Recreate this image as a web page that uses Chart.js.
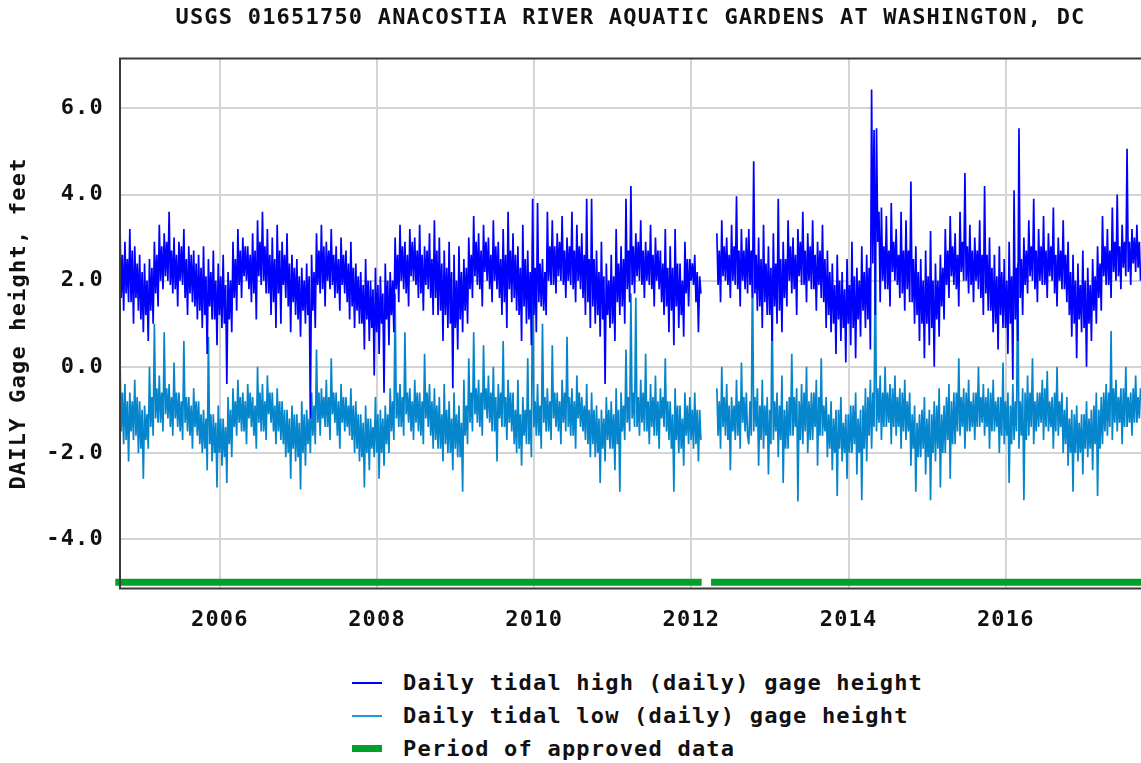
<!DOCTYPE html>
<html>
<head>
<meta charset="utf-8">
<title>USGS 01651750 Anacostia River</title>
<script src="https://cdn.jsdelivr.net/npm/chart.js@4.4.1/dist/chart.umd.min.js"></script>
<style>
  html, body { margin: 0; padding: 0; background: #fff; }
  #wrap { position: relative; width: 1141px; height: 763px; overflow: hidden; }
  #chart { position: absolute; left: 0; top: 0; }
  #legend { position: absolute; left: 352px; top: 666px; font: bold 22px "DejaVu Sans Mono", monospace; letter-spacing: 1.2px; color: #111; }
  .row { display: flex; align-items: center; height: 33px; white-space: pre; }
  .key { width: 30px; margin-right: 21px; }
</style>
</head>
<body>
<div id="wrap">
  <canvas id="chart" width="1141" height="661"></canvas>
  <div id="legend"></div>
</div>
<script>
// daily record thinned to 64 readings per year, starting Oct 2004
var startYear = 2004.73;
var stepYear = 1 / 64;

// daily tidal high, feet (one row per water year, Oct -> Sep)
var highFeet = [
  3.3,1.6,2.6,1.3, 2.9,1.7,2.5,1.5, 3.2,1.5,2.7,1.0, 2.8,1.6,2.4,1.3, 2.6,1.1,2.2,0.8, 2.4,1.2,2.0,0.6, 2.5,1.3,2.3,1.0, 2.9,1.7,2.6,1.4,
  3.3,2.0,2.8,1.8, 3.1,2.1,2.9,2.0, 3.6,1.9,2.7,1.7, 3.0,1.8,2.6,1.4, 2.9,2.0,2.8,1.9, 3.2,1.6,2.5,1.2, 2.8,1.7,2.6,1.5, 2.7,1.4,2.4,1.1,
  // 2006
  2.6,1.3,2.3,0.9, 2.8,1.2,2.1,0.3, 2.5,1.4,2.2,1.1, 2.7,1.1,2.0,0.5, 2.4,1.2,2.1,0.9, 2.6,1.0,1.9,-0.4, 2.2,1.1,2.0,0.8, 2.9,1.6,2.5,1.3,
  3.2,1.9,2.7,1.6, 3.0,2.1,2.8,2.0, 2.8,1.8,2.6,1.5, 3.1,1.7,2.7,1.1, 3.4,2.1,2.9,1.9, 3.6,2.0,2.8,1.7, 3.2,1.7,2.6,1.2, 3.0,1.5,2.5,0.9,
  // 2007
  3.3,1.7,2.7,1.0, 2.9,1.9,2.6,1.6, 3.1,1.4,2.4,0.8, 2.6,1.5,2.3,1.2, 2.5,1.1,2.1,0.7, 2.3,1.3,2.0,1.0, 2.4,1.2,2.1,-1.2, 2.6,1.3,2.2,0.9,
  3.1,1.9,2.7,1.7, 3.3,1.8,2.8,1.4, 2.9,2.0,2.7,1.8, 3.2,1.9,2.6,1.6, 2.8,1.7,2.5,1.3, 3.0,1.9,2.6,1.7, 2.7,1.5,2.4,1.1, 2.9,1.4,2.3,0.9,
  // 2008
  2.4,1.3,2.1,1.0, 2.2,1.0,1.9,0.4, 2.5,1.1,2.0,0.6, 2.0,0.9,1.8,-0.2, 2.3,0.8,1.9,0.3, 2.1,1.0,1.7,-0.6, 2.4,1.1,2.0,0.5, 2.2,1.2,2.0,0.8,
  3.0,1.8,2.6,1.5, 3.3,2.0,2.8,1.8, 2.9,1.7,2.6,1.4, 3.2,2.1,2.9,2.0, 3.0,1.9,2.7,1.6, 3.3,1.7,2.6,1.3, 2.8,1.9,2.7,1.8, 3.1,1.6,2.5,1.2,
  // 2009
  3.4,1.6,2.7,1.2, 3.0,1.3,2.4,0.6, 2.7,1.2,2.3,0.9, 2.9,1.0,2.2,-0.5, 2.6,0.9,2.0,0.4, 2.8,1.1,2.2,0.8, 2.5,1.3,2.3,1.0, 3.0,1.8,2.6,1.6,
  3.5,2.1,2.9,1.9, 3.1,1.8,2.7,1.4, 3.3,2.2,2.9,2.0, 3.0,1.8,2.6,1.5, 3.4,2.0,2.8,1.8, 2.9,1.6,2.5,1.2, 3.2,1.5,2.6,0.9, 3.6,1.8,2.7,1.5,
  // 2010
  3.1,1.6,2.6,1.3, 2.8,1.2,2.3,0.6, 3.3,1.4,2.5,1.0, 2.7,1.1,2.2,0.5, 3.9,1.2,2.3,0.8, 3.8,1.5,2.4,1.4, 2.5,1.3,2.2,1.2, 3.6,2.0,2.8,1.9,
  3.4,1.9,2.8,1.7, 3.1,2.1,2.9,2.0, 3.5,1.9,2.7,1.6, 3.0,2.0,2.8,1.9, 3.6,1.8,2.7,1.5, 3.3,2.0,2.8,1.8, 3.1,1.6,2.6,1.2, 3.9,1.5,2.5,0.9,
  // 2011
  3.9,1.4,2.5,1.0, 2.7,1.2,2.2,0.7, 2.9,1.1,2.1,-0.4, 2.4,1.2,2.0,0.9, 2.6,1.0,2.1,0.6, 3.2,1.5,2.4,1.2, 2.8,1.4,2.5,1.0, 3.9,1.8,2.7,1.5,
  4.2,1.9,2.8,1.7, 3.1,2.1,2.9,2.0, 3.4,1.9,2.7,1.6, 2.9,2.0,2.7,1.9, 3.3,1.8,2.6,1.4, 3.0,2.0,2.7,1.8, 2.7,1.5,2.4,1.2, 3.2,1.4,2.3,0.8,
  // 2012 (no record Feb-Apr)
  2.8,1.3,2.3,0.5, 3.2,1.4,2.4,0.9, 2.4,1.2,2.0,0.7, 2.9,1.7,2.5,1.4, 2.5,2.0,2.4,1.9, 2.6,1.5,2.2,0.8, 2.1,1.7,
  null,null,null,null,null,null,null,null,null,null,null,null,
  3.1,1.9,2.7,1.5, 3.4,2.1,2.8,2.0, 3.0,1.9,2.6,1.6, 3.3,2.0,2.8,1.9, 3.96,1.8,2.7,1.4, 3.2,2.0,2.7,1.8, 3.0,1.7,
  // 2013
  3.2,1.9,2.7,1.6, 4.77,1.7,2.6,1.3, 3.0,1.4,2.5,0.9, 3.3,1.5,2.4,1.2, 2.8,1.2,2.3,0.6, 3.1,1.4,2.4,1.0, 3.9,1.3,2.5,0.8, 2.9,1.6,2.5,1.4,
  3.4,2.0,2.8,1.7, 3.0,1.8,2.6,1.2, 3.2,2.1,2.9,1.9, 3.6,1.9,2.7,1.5, 3.1,2.0,2.8,1.8, 3.4,1.8,2.6,1.3, 2.9,1.9,2.7,1.6, 3.3,1.5,2.5,0.9,
  // 2014
  2.7,1.2,2.2,0.8, 2.4,1.0,1.9,0.3, 2.6,1.1,2.0,0.6, 2.2,0.9,1.8,0.1, 2.5,1.0,1.9,0.5, 2.9,0.9,2.1,0.2, 2.3,1.1,2.0,0.7, 2.8,1.3,2.2,0.9,
  2.6,1.1,2.3,0.4, 6.44,2.4,5.5,1.2, 5.54,2.9,3.6,1.5, 3.7,2.0,2.8,1.8, 3.5,1.8,2.7,1.4, 3.8,2.2,2.9,2.0, 3.2,1.9,2.6,1.6, 3.6,1.7,2.7,1.3,
  // 2015
  3.4,1.8,2.7,1.5, 4.3,1.5,2.5,1.0, 2.8,1.2,2.2,0.6, 2.5,1.0,2.0,0.2, 2.7,1.0,2.1,0.5, 3.15,0.9,2.0,0.0, 2.4,1.1,2.0,0.7, 2.6,1.4,2.3,1.1,
  3.2,1.9,2.7,1.6, 3.5,2.1,2.8,1.9, 3.1,1.8,2.6,1.4, 3.6,2.2,2.9,2.0, 4.5,2.0,2.8,1.7, 3.3,1.9,2.7,1.5, 3.0,2.0,2.7,1.8, 3.4,1.6,2.6,1.2,
  // 2016
  4.2,1.7,2.6,1.3, 3.0,1.3,2.3,0.8, 2.6,1.0,2.1,0.4, 2.8,1.2,2.2,0.9, 2.5,0.9,2.0,0.3, 2.9,1.0,2.1,-0.3, 4.1,1.1,2.3,0.6, 5.54,1.6,2.5,1.2,
  3.0,1.9,2.7,1.7, 3.4,2.1,2.8,2.0, 3.9,1.8,2.7,1.5, 3.2,2.0,2.8,1.9, 3.5,1.9,2.7,1.6, 3.1,2.1,2.8,2.0, 3.7,1.7,2.6,1.4, 3.0,2.0,2.7,1.8,
  // 2017
  3.4,1.8,2.6,1.5, 2.9,1.2,2.2,0.7, 2.6,1.0,2.0,0.2, 2.4,1.1,1.9,0.8, 2.7,0.9,2.0,0.0, 2.3,1.0,1.9,0.6, 2.5,1.3,2.1,1.0, 2.8,1.6,2.4,1.3,
  3.5,2.1,2.8,1.9, 3.2,1.9,2.7,1.6, 3.7,2.2,2.9,2.0, 4.0,2.1,2.8,1.8, 3.3,2.3,2.9,2.1, 5.06,2.2,2.9,1.9, 3.2,2.4,3.0,2.2, 3.3,2.3,2.9,2.0
];

// daily tidal low, feet
var lowFeet = [
  0.2,-1.5,-0.6,-1.8, -0.4,-1.7,-0.8,-2.2, -0.6,-1.5,-0.8,-1.7, -0.3,-1.6,-0.7,-2.0, -0.8,-1.9,-1.0,-2.6, -0.9,-1.7,-1.1,-1.9, 0.0,-1.4,-0.7,-1.6, 1.0,-1.2,-0.5,-1.3,
  -0.2,-1.3,-0.6,-1.5, 0.8,-1.1,-0.5,-1.2, -0.4,-1.4,-0.7,-1.6, 0.1,-1.2,-0.6,-1.4, -0.6,-1.5,-0.8,-1.7, 0.6,-1.3,-0.7,-1.5, -0.7,-1.6,-0.9,-1.9, -0.5,-1.4,-0.8,-1.6,
  // 2006
  -0.8,-1.8,-1.1,-2.0, -1.0,-1.9,-1.2,-2.4, 0.7,-1.8,-1.1,-2.2, -1.1,-2.0,-1.3,-2.8, -0.9,-2.0,-1.2,-2.3, -1.2,-2.1,-1.4,-2.7, -0.7,-1.8,-1.0,-2.1, -0.5,-1.4,-0.8,-1.6,
  -0.3,-1.3,-0.7,-1.5, -0.6,-1.5,-0.8,-1.8, -0.4,-1.2,-0.6,-1.4, -0.7,-1.6,-0.9,-1.9, 0.0,-1.3,-0.6,-1.5, -0.4,-1.5,-0.8,-1.7, -0.2,-1.1,-0.6,-1.3, -0.6,-1.5,-0.9,-1.8,
  // 2007
  -0.5,-1.5,-0.8,-1.7, -0.8,-1.8,-1.0,-2.1, -1.0,-2.0,-1.2,-2.6, -0.9,-1.9,-1.1,-2.2, -1.1,-2.1,-1.3,-2.85, -0.8,-2.0,-1.1,-2.3, -1.0,-1.8,-1.2,-2.0, -0.6,-1.6,-0.9,-1.8,
  0.4,-1.3,-0.6,-1.6, -0.5,-1.2,-0.7,-1.4, -0.3,-1.4,-0.7,-1.7, 0.2,-1.1,-0.6,-1.3, -0.6,-1.6,-0.8,-1.9, -0.4,-1.3,-0.7,-1.5, -0.7,-1.4,-0.9,-1.6, -0.5,-1.7,-0.9,-2.0,
  // 2008
  -0.8,-1.9,-1.1,-2.2, -1.1,-2.1,-1.3,-2.8, -0.9,-2.0,-1.2,-2.4, -1.2,-1.9,-1.4,-2.1, -0.7,-2.0,-1.1,-2.6, -1.0,-2.0,-1.2,-2.3, -0.9,-1.8,-1.1,-2.0, -0.5,-1.5,-0.8,-1.7,
  1.7,-1.2,-0.6,-1.4, -0.4,-1.4,-0.7,-1.6, 0.8,-1.1,-0.6,-1.3, -0.5,-1.5,-0.8,-1.7, -0.3,-1.3,-0.6,-1.5, -0.6,-1.6,-0.8,-1.8, 0.3,-1.2,-0.6,-1.4, -0.4,-1.6,-0.8,-1.9,
  // 2009
  -0.5,-1.7,-0.9,-1.9, -0.7,-1.9,-1.1,-2.2, -0.4,-1.8,-1.0,-2.0, -0.8,-2.0,-1.2,-2.4, -0.6,-1.9,-1.1,-2.1, -0.9,-2.1,-1.3,-2.9, -0.3,-1.6,-0.9,-1.8, 0.2,-1.3,-0.6,-1.5,
  0.8,-1.1,-0.5,-1.3, -0.3,-1.4,-0.6,-1.6, 0.5,-1.0,-0.5,-1.2, -0.2,-1.3,-0.6,-1.5, 0.0,-1.5,-0.7,-2.2, -0.4,-1.2,-0.6,-1.4, 0.6,-1.4,-0.7,-1.7, -0.3,-1.3,-0.6,-1.5,
  // 2010
  -0.6,-1.8,-1.0,-2.0, -0.3,-1.9,-1.1,-2.3, -0.7,-1.6,-1.0,-1.8, 0.2,-1.8,-1.0,-2.1, 3.0,-1.4,-0.8,-1.6, -0.4,-1.6,-0.9,-1.9, 1.0,-1.3,-0.7,-1.5, -0.5,-1.5,-0.8,-1.7,
  0.5,-1.2,-0.6,-1.4, -0.6,-1.5,-0.8,-1.8, -0.3,-1.3,-0.6,-1.5, 0.7,-1.4,-0.7,-1.6, -0.5,-1.6,-0.8,-1.9, -0.2,-1.2,-0.6,-1.4, -0.7,-1.5,-0.9,-1.7, -0.4,-1.8,-1.0,-2.1,
  // 2011
  -0.6,-1.8,-1.0,-2.1, -0.9,-2.0,-1.2,-2.7, -1.0,-1.9,-1.2,-2.2, -0.7,-1.7,-1.0,-1.9, -0.8,-1.9,-1.1,-2.4, -0.5,-1.8,-1.0,-2.9, -0.6,-1.5,-0.9,-1.7, 0.4,-1.3,-0.7,-1.5,
  1.7,-1.2,-0.6,-1.4, 1.6,-1.4,-0.7,-1.6, -0.3,-1.3,-0.6,-1.5, 0.3,-1.5,-0.8,-1.8, -0.4,-1.4,-0.7,-1.6, -0.2,-1.6,-0.8,-1.9, -0.5,-1.2,-0.7,-1.4, 0.2,-1.5,-0.8,-1.7,
  // 2012 (no record Feb-Apr)
  -0.8,-1.9,-1.1,-2.9, -0.5,-1.7,-0.9,-2.0, -0.9,-1.9,-1.2,-2.3, -0.6,-1.6,-0.9,-1.8, -0.7,-1.7,-1.0,-1.9, -0.6,-1.8,-1.0,-2.2, -1.0,-1.7,
  null,null,null,null,null,null,null,null,null,null,null,null,
  -0.5,-1.6,-0.8,-1.9, 0.0,-1.4,-0.7,-1.6, -0.4,-1.7,-0.9,-2.4, -0.7,-1.5,-0.9,-1.7, -0.3,-1.6,-0.8,-1.9, 0.1,-1.3,-0.7,-1.5, -0.6,-1.6,
  // 2013
  -1.8,-0.8,-1.6,2.4, -1.5,-0.7,-1.4,-0.5, -2.3,-0.9,-1.7,-0.3, -1.9,-0.9,-1.6,-0.7, -2.5,-1.0,-1.8,1.5, -1.7,-0.8,-1.5,-0.6, -2.1,-0.9,-1.7,-0.2, -2.7,-1.0,-1.9,-0.8,
  -1.9,-0.7,-1.6,0.3, -1.6,-0.7,-1.4,-0.5, -3.13,-0.8,-1.7,-0.4, -1.8,-0.6,-1.5,0.0, -2.0,-0.8,-1.7,-0.6, -1.7,-0.6,-1.4,-0.3, -2.3,-0.7,-1.6,0.2, -1.6,-0.9,-1.5,-0.7,
  // 2014
  -2.1,-1.1,-1.9,-0.8, -2.4,-1.2,-2.0,-1.0, -3.0,-1.0,-1.9,-0.7, -2.2,-1.3,-2.0,-1.1, -2.6,-1.1,-2.0,-0.9, -2.0,-0.9,-1.8,-0.6, -2.5,-1.2,-2.0,-1.0, -3.1,-0.9,-1.9,-0.5,
  -2.2,-0.7,-1.6,-0.3, -1.9,-0.6,-1.4,2.9, -1.5,-0.5,-1.3,-0.2, -1.7,-0.6,-1.4,0.0, -1.4,-0.6,-1.3,-0.4, -1.8,-0.5,-1.4,-0.2, -1.6,-0.7,-1.4,-0.5, -1.9,-0.6,-1.5,-0.3,
  // 2015
  -1.7,-0.8,-1.5,-0.6, -2.3,-1.1,-1.9,-0.9, -2.9,-1.3,-2.1,-1.1, -2.1,-1.0,-1.9,-0.7, -2.5,-1.2,-2.1,-1.0, -3.1,-1.1,-2.0,-0.8, -2.2,-0.9,-1.9,-0.5, -2.8,-1.1,-2.0,-0.9,
  -2.0,-0.7,-1.7,-0.4, -2.6,-0.8,-1.8,-0.6, -1.8,-0.6,-1.5,0.2, -1.6,-0.7,-1.4,-0.5, -1.9,-0.6,-1.5,-0.3, -1.5,-0.8,-1.4,-0.6, -1.7,-0.6,-1.4,0.0, -1.4,-0.7,-1.3,-0.4,
  // 2016
  -1.6,-0.7,-1.4,-0.5, -1.9,-0.6,-1.5,-0.3, -1.5,-0.8,-1.4,-0.7, -2.0,-0.7,-1.6,0.1, -1.8,-0.8,-1.6,-0.6, -2.7,-0.9,-1.8,-0.4, -1.7,-0.8,-1.5,2.4, -1.9,-0.8,-1.6,-0.5,
  -3.1,-0.6,-1.7,-0.2, -1.6,-0.6,-1.4,0.2, -1.8,-0.8,-1.5,-0.6, -1.4,-0.6,-1.3,-0.3, -1.7,-0.5,-1.4,-0.1, -1.5,-0.8,-1.4,-0.7, -1.9,-0.6,-1.5,0.0, -1.6,-0.8,-1.4,-0.6,
  // 2017
  -2.0,-1.0,-1.8,-0.7, -2.3,-1.2,-2.0,-1.0, -2.9,-1.1,-2.0,-0.9, -2.2,-1.3,-2.0,-1.1, -2.5,-1.1,-1.9,-0.8, -2.1,-1.2,-1.9,-1.0, -2.4,-0.9,-1.8,-0.6, -3.0,-1.0,-1.9,-0.7,
  -1.8,-0.6,-1.5,-0.4, -1.6,-0.6,-1.4,0.83, -1.7,-0.5,-1.3,-0.3, -1.5,-0.7,-1.3,-0.5, -1.8,-0.5,-1.4,0.0, -1.4,-0.7,-1.3,-0.6, -1.6,-0.5,-1.3,-0.2, -1.3,-0.7,-1.2,-0.5
];

// approved data periods (decimal years) drawn along the bottom
var approvedFrom = [2004.67, 2012.25];
var approvedTo = [2012.13, 2017.72];
var approvedLevel = -5.0;

var xTickYears = [2006, 2008, 2010, 2012, 2014, 2016];
var yTickFeet = [-4, -2, 0, 2, 4, 6];

var highColor = "#0000ff";
var lowColor = "#0585cc";
var approvedColor = "#00a02a";
var textFont = { family: "'DejaVu Sans Mono', monospace", size: 22, weight: "bold" };

function toPoints(values) {
  return values.map(function (v, i) {
    return { x: startYear + i * stepYear, y: v };
  });
}

var approvedPoints = [];
approvedFrom.forEach(function (a, k) {
  approvedPoints.push({ x: a, y: approvedLevel });
  approvedPoints.push({ x: approvedTo[k], y: approvedLevel });
  approvedPoints.push({ x: approvedTo[k], y: null });
});

// wider glyph spacing, like the original bitmap font
var spacing = {
  id: "spacing",
  beforeLayout: function (chart) { chart.ctx.letterSpacing = "1.2px"; },
  beforeDraw: function (chart) { chart.ctx.letterSpacing = "1.2px"; }
};

// dark frame on left, top and bottom (the right edge is cut off in the original)
var frame = {
  id: "frame",
  afterDatasetsDraw: function (chart) {
    var a = chart.chartArea, ctx = chart.ctx;
    ctx.save();
    ctx.strokeStyle = "#3a3a3a";
    ctx.lineWidth = 2;
    ctx.beginPath();
    ctx.moveTo(a.right + 2, a.top);
    ctx.lineTo(a.left, a.top);
    ctx.lineTo(a.left, a.bottom);
    ctx.lineTo(a.right + 2, a.bottom);
    ctx.stroke();
    ctx.restore();
  }
};

var ctx = document.getElementById("chart").getContext("2d");
var chart = new Chart(ctx, {
  type: "line",
  data: {
    datasets: [
      {
        label: "Daily tidal high (daily) gage height",
        data: toPoints(highFeet),
        borderColor: highColor,
        borderWidth: 1.7,
        pointRadius: 0,
        spanGaps: false,
        order: 1
      },
      {
        label: "Daily tidal low (daily) gage height",
        data: toPoints(lowFeet),
        borderColor: lowColor,
        borderWidth: 1.7,
        pointRadius: 0,
        spanGaps: false,
        order: 2
      },
      {
        label: "Period of approved data",
        data: approvedPoints,
        borderColor: approvedColor,
        borderWidth: 7,
        borderCapStyle: "butt",
        pointRadius: 0,
        spanGaps: false,
        clip: false,
        order: 0
      }
    ]
  },
  options: {
    responsive: false,
    animation: false,
    layout: { padding: { left: 0, right: 0, top: 0, bottom: 10 } },
    plugins: {
      legend: { display: false },
      tooltip: { enabled: false },
      title: {
        display: true,
        fullSize: false,
        text: "USGS 01651750 ANACOSTIA RIVER AQUATIC GARDENS AT WASHINGTON, DC",
        color: "#111",
        font: textFont,
        padding: { top: 5, bottom: 27 }
      }
    },
    scales: {
      x: {
        type: "linear",
        min: 2004.73,
        max: 2017.72,
        afterBuildTicks: function (s) {
          s.ticks = xTickYears.map(function (v) { return { value: v }; });
        },
        ticks: {
          color: "#111",
          font: textFont,
          padding: 18,
          maxRotation: 0,
          callback: function (v) { return String(v); }
        },
        grid: { color: "#d4d4d4", lineWidth: 2, drawTicks: false },
        border: { display: false }
      },
      y: {
        min: -5.15,
        max: 7.16,
        afterBuildTicks: function (s) {
          s.ticks = yTickFeet.map(function (v) { return { value: v }; });
        },
        afterFit: function (s) { s.width = 120; },
        ticks: {
          color: "#111",
          font: textFont,
          padding: 16,
          callback: function (v) { return v.toFixed(1); }
        },
        grid: { color: "#d4d4d4", lineWidth: 2, drawTicks: false },
        border: { display: false },
        title: {
          display: true,
          text: "DAILY Gage height, feet",
          color: "#111",
          font: textFont,
          padding: { top: 6, bottom: 0 }
        }
      }
    }
  },
  plugins: [spacing, frame]
});

// legend under the chart, rows left-aligned as in the original
var legendItems = [
  { label: "Daily tidal high (daily) gage height", color: highColor, h: 2 },
  { label: "Daily tidal low (daily) gage height", color: "#1e9ad8", h: 2 },
  { label: "Period of approved data", color: approvedColor, h: 7 }
];
var legend = document.getElementById("legend");
legendItems.forEach(function (it) {
  var row = document.createElement("div");
  row.className = "row";
  var key = document.createElement("span");
  key.className = "key";
  key.style.height = it.h + "px";
  key.style.background = it.color;
  var txt = document.createElement("span");
  txt.textContent = it.label;
  row.appendChild(key);
  row.appendChild(txt);
  legend.appendChild(row);
});
</script>
</body>
</html>
